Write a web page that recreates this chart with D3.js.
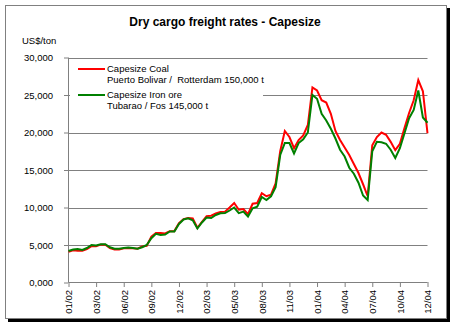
<!DOCTYPE html>
<html><head><meta charset="utf-8">
<script src="https://cdn.jsdelivr.net/npm/d3@7/dist/d3.min.js"></script>
<style>
body{margin:0;background:#fff;}
text{font-family:"Liberation Sans",Arial,sans-serif;fill:#000;white-space:pre;}
</style>
</head><body>
<svg id="c" width="454" height="326"></svg>
<script>
// Weekly-ish samples (every ~2 weeks), 6 samples between labelled ticks
const coalPuertoBolivar = [
  4100,4300,4250,4250,4450,4850,4850,5050,5050,4600,4400,4400,
  4550,4600,4550,4500,4800,4900,6100,6600,6600,6550,6850,6850,
  7900,8450,8600,8550,7300,8100,8850,8900,9200,9400,9450,10000,
  10600,9700,9800,9100,10500,10600,11900,11500,11700,13200,17500,20200,
  19400,17900,19000,19600,21000,26000,25600,24300,24000,22500,20200,19000,
  18000,17000,15800,14600,13100,11500,18300,19400,20000,19700,18750,17650,
  18500,20600,22600,24300,27000,25500,19900
];
const ironOreTubarao = [
  4200,4400,4450,4350,4600,5000,4950,5100,5100,4700,4500,4500,
  4600,4650,4600,4500,4700,5000,5900,6500,6350,6400,6800,6800,
  7800,8400,8550,8300,7200,8000,8650,8600,9000,9230,9250,9600,
  10000,9250,9450,8800,9900,10100,11400,11000,11500,12700,17000,18600,
  18600,17200,18600,19100,20000,25000,24500,22500,21600,20500,19200,17700,
  16800,15300,14500,13300,11600,11000,17500,18750,18700,18500,17700,16600,
  17900,19900,21900,23000,25600,22000,21300
];
const xTickLabels = ["01/02","03/02","06/02","09/02","12/02","02/03","05/03","08/03","11/03","01/04","04/04","07/04","10/04","12/04"];
const samplesPerTick = 6;
const yTickValues = [0,5000,10000,15000,20000,25000,30000];
const yTickLabels = ["0,000","5,000","10,000","15,000","20,000","25,000","30,000"];
const seriesNames = [["Capesize Coal","Puerto Bolivar /  Rotterdam 150,000 t"],["Capesize Iron ore","Tubarao / Fos 145,000 t"]];
const seriesColors = ["#ff0000","#008000"];

const svg = d3.select("#c");
// frame with shadow
svg.append("rect").attr("x",8).attr("y",8).attr("width",442).attr("height",314).attr("fill","#000");
svg.append("rect").attr("x",5.5).attr("y",5.5).attr("width",441).attr("height",313)
  .attr("fill","#fff").attr("stroke","#808080");

const x = d3.scaleLinear().domain([0, coalPuertoBolivar.length-1]).range([68.5, 427.5]);
const y = d3.scaleLinear().domain([0, 30000]).range([282.5, 57.5]);

svg.append("text").attr("x",225).attr("y",26).attr("text-anchor","middle")
  .style("font-size","12px").style("font-weight","bold").text("Dry cargo freight rates - Capesize");
svg.append("text").attr("x",22).attr("y",44).style("font-size","9.5px").text("US$/ton");

// gridlines
svg.append("g").selectAll("line").data(yTickValues.slice(1)).join("line")
  .attr("x1",68.5).attr("x2",427.5).attr("y1",d=>Math.round(y(d))+0.5).attr("y2",d=>Math.round(y(d))+0.5)
  .attr("stroke","#808080");

// y axis
const yAxis = d3.axisLeft(y).tickValues(yTickValues).tickSize(4).tickPadding(11)
  .tickFormat((d,i)=>yTickLabels[i]);
const gy = svg.append("g").attr("transform","translate(68,0)").call(yAxis);
gy.select(".domain").attr("stroke","#808080").attr("d","M0.5,57.5V282.5");
gy.selectAll(".tick line").attr("stroke","#808080");
gy.selectAll(".tick text").style("font-size","9.5px").style("font-family","'Liberation Sans',Arial,sans-serif");

// x axis
const tickIdx = xTickLabels.map((_,i)=>i*samplesPerTick);
const xAxis = d3.axisBottom(x).tickValues(tickIdx).tickSize(5).tickFormat((d,i)=>xTickLabels[i]);
const gx = svg.append("g").attr("transform","translate(0,282)").call(xAxis);
gx.select(".domain").attr("stroke","#808080").attr("d","M68.5,0.5H427.5");
gx.selectAll(".tick line").attr("stroke","#808080");
gx.selectAll(".tick text").style("font-size","9.5px").style("font-family","'Liberation Sans',Arial,sans-serif")
  .attr("text-anchor","end").attr("dy","0.35em").attr("transform","translate(0,8) rotate(-90)").attr("x",0).attr("y",0);

// legend background
svg.append("rect").attr("x",70).attr("y",60).attr("width",193).attr("height",52).attr("fill","#fff");

const line = d3.line().x((d,i)=>x(i)).y(d=>y(d));
[coalPuertoBolivar, ironOreTubarao].forEach((s,j)=>{
  svg.append("path").datum(s).attr("d",line).attr("fill","none")
    .attr("stroke",seriesColors[j]).attr("stroke-width",2).attr("stroke-linejoin","miter");
});

// legend
seriesNames.forEach((n,j)=>{
  const yy = 69 + j*26;
  svg.append("line").attr("x1",78).attr("x2",105).attr("y1",yy).attr("y2",yy)
    .attr("stroke",seriesColors[j]).attr("stroke-width",2);
  svg.append("text").attr("x",107).attr("y",yy).attr("dy","0.35em").style("font-size","9.5px").text(n[0]);
  svg.append("text").attr("x",107).attr("y",yy+11).attr("dy","0.35em").style("font-size","9.5px").text(n[1]);
});
</script>
</body></html>
